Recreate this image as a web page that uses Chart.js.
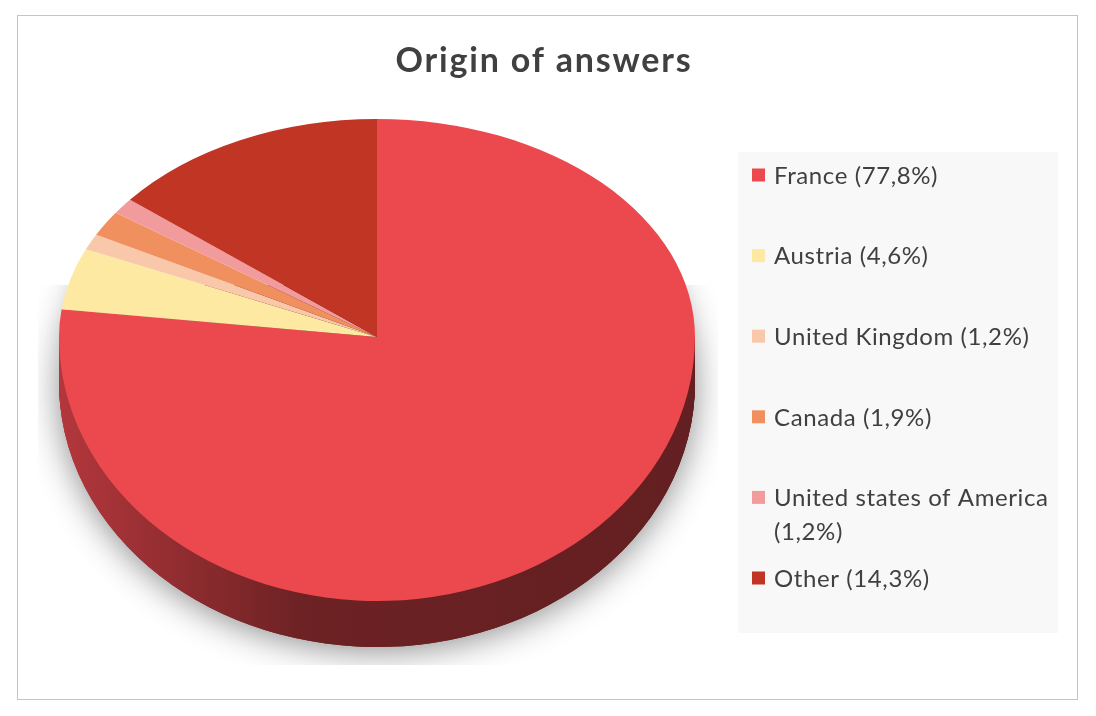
<!DOCTYPE html>
<html>
<head>
<meta charset="utf-8">
<script src="https://cdn.jsdelivr.net/npm/chart.js@4.4.1/dist/chart.umd.min.js"></script>
<style>
  html, body { margin: 0; padding: 0; background: #fff; }
  canvas { display: block; }
</style>
</head>
<body>
<canvas id="myChart" width="1096" height="716"></canvas>
<script>
const titleText = 'Origin of answers';
const countries = ['France', 'Austria', 'United Kingdom', 'Canada', 'United states of America', 'Other'];
const shares = [77.8, 4.6, 1.2, 1.9, 1.2, 14.3];
const colors = ['#EC494F', '#FEE9A2', '#F9C8AA', '#F0905F', '#F29B9D', '#C03524'];

// fake perspective: back half flatter than front half
const apexY = 337;
const backRy = 218;
const frontRy = 264;
const depth = 46;

function shade(hex, f) {
  const n = parseInt(hex.slice(1), 16);
  const r = Math.round(((n >> 16) & 255) * f);
  const g = Math.round(((n >> 8) & 255) * f);
  const b = Math.round((n & 255) * f);
  return `rgb(${r},${g},${b})`;
}

function legendText(i) {
  return countries[i] + ' (' + shares[i].toFixed(1).replace('.', ',') + '%)';
}

function wrapText(ctx, text, maxWidth) {
  const words = text.split(' ');
  const lines = [];
  let line = '';
  words.forEach(w => {
    const test = line ? line + ' ' + w : w;
    if (line && ctx.measureText(test).width > maxWidth) {
      lines.push(line);
      line = w;
    } else {
      line = test;
    }
  });
  lines.push(line);
  return lines;
}

const pie3d = {
  id: 'pie3d',
  beforeDatasetsDraw(chart) {
    const ctx = chart.ctx;
    const meta = chart.getDatasetMeta(0);
    const first = meta.data[0];
    const cx = first.x, cy = first.y, r = first.outerRadius;
    const kBack = backRy / r, kFront = frontRy / r;

    const tilt = k => {
      ctx.translate(cx, apexY);
      ctx.scale(1, k);
      ctx.translate(-cx, -cy);
    };
    const clipRect = (x, y, w, h) => {
      ctx.beginPath();
      ctx.rect(x, y, w, h);
      ctx.clip();
    };
    const drawLayer = (off, k, fills) => {
      ctx.save();
      ctx.translate(0, off / k);
      meta.data.forEach((arc, i) => {
        const bg = arc.options.backgroundColor;
        arc.options.backgroundColor = fills[i];
        arc.draw(ctx);
        arc.options.backgroundColor = bg;
      });
      ctx.restore();
    };
    const sideFills = colors.map(c => {
      const g = ctx.createLinearGradient(cx - r, 0, cx + r, 0);
      g.addColorStop(0, shade(c, 0.76));
      g.addColorStop(0.38, shade(c, 0.46));
      g.addColorStop(1, shade(c, 0.42));
      return g;
    });

    // soft shadow under the pie
    ctx.save();
    clipRect(38, 285, 680, 380);
    tilt(kFront);
    ctx.shadowColor = 'rgba(0,0,0,0.45)';
    ctx.shadowBlur = 34;
    ctx.shadowOffsetY = 4;
    drawLayer(depth, kFront, sideFills);
    ctx.restore();

    // side and front half of the top
    ctx.save();
    clipRect(0, apexY, chart.width, chart.height - apexY);
    tilt(kFront);
    for (let d = depth; d > 0; d--) drawLayer(d, kFront, sideFills);
    drawLayer(0, kFront, colors);
    ctx.restore();

    // back half: chart.js draws it with this clip and transform on
    ctx.save();
    clipRect(0, 0, chart.width, apexY);
    tilt(kBack);
  },
  afterDatasetsDraw(chart) {
    chart.ctx.restore();
  }
};

const frame = {
  id: 'frame',
  afterDraw(chart) {
    const ctx = chart.ctx;
    ctx.save();
    ctx.strokeStyle = '#c4c4c4';
    ctx.lineWidth = 1;
    ctx.strokeRect(17.5, 15.5, 1060, 684);

    ctx.fillStyle = '#404040';
    ctx.font = 'bold 34px Lato';
    ctx.letterSpacing = '1.8px';
    ctx.textAlign = 'center';
    ctx.textBaseline = 'middle';
    ctx.fillText(titleText, 544, 61);

    // legend box
    ctx.fillStyle = '#f8f8f8';
    ctx.fillRect(738, 152, 320, 481);
    ctx.font = '24px Lato';
    ctx.letterSpacing = '0.6px';
    ctx.textAlign = 'left';
    countries.forEach((c, i) => {
      const y = 175 + i * 80.6;
      ctx.fillStyle = colors[i];
      ctx.fillRect(752, y - 6.5, 13, 13);
      ctx.fillStyle = '#404040';
      wrapText(ctx, legendText(i), 285).forEach((line, j) => {
        ctx.fillText(line, 774, y + 1 + j * 34);
      });
    });
    ctx.restore();
  }
};

const ctx = document.getElementById('myChart').getContext('2d');
const myChart = new Chart(ctx, {
  type: 'pie',
  data: {
    labels: countries,
    datasets: [{
      data: shares,
      backgroundColor: colors,
      borderWidth: 0,
      clip: false
    }]
  },
  options: {
    responsive: false,
    devicePixelRatio: 1,
    animation: false,
    events: [],
    layout: {
      padding: { left: 59, right: 401, top: 40, bottom: 40 }
    },
    plugins: {
      legend: { display: false },
      tooltip: { enabled: false },
      title: { display: false }
    }
  },
  plugins: [pie3d, frame]
});
</script>
</body>
</html>
